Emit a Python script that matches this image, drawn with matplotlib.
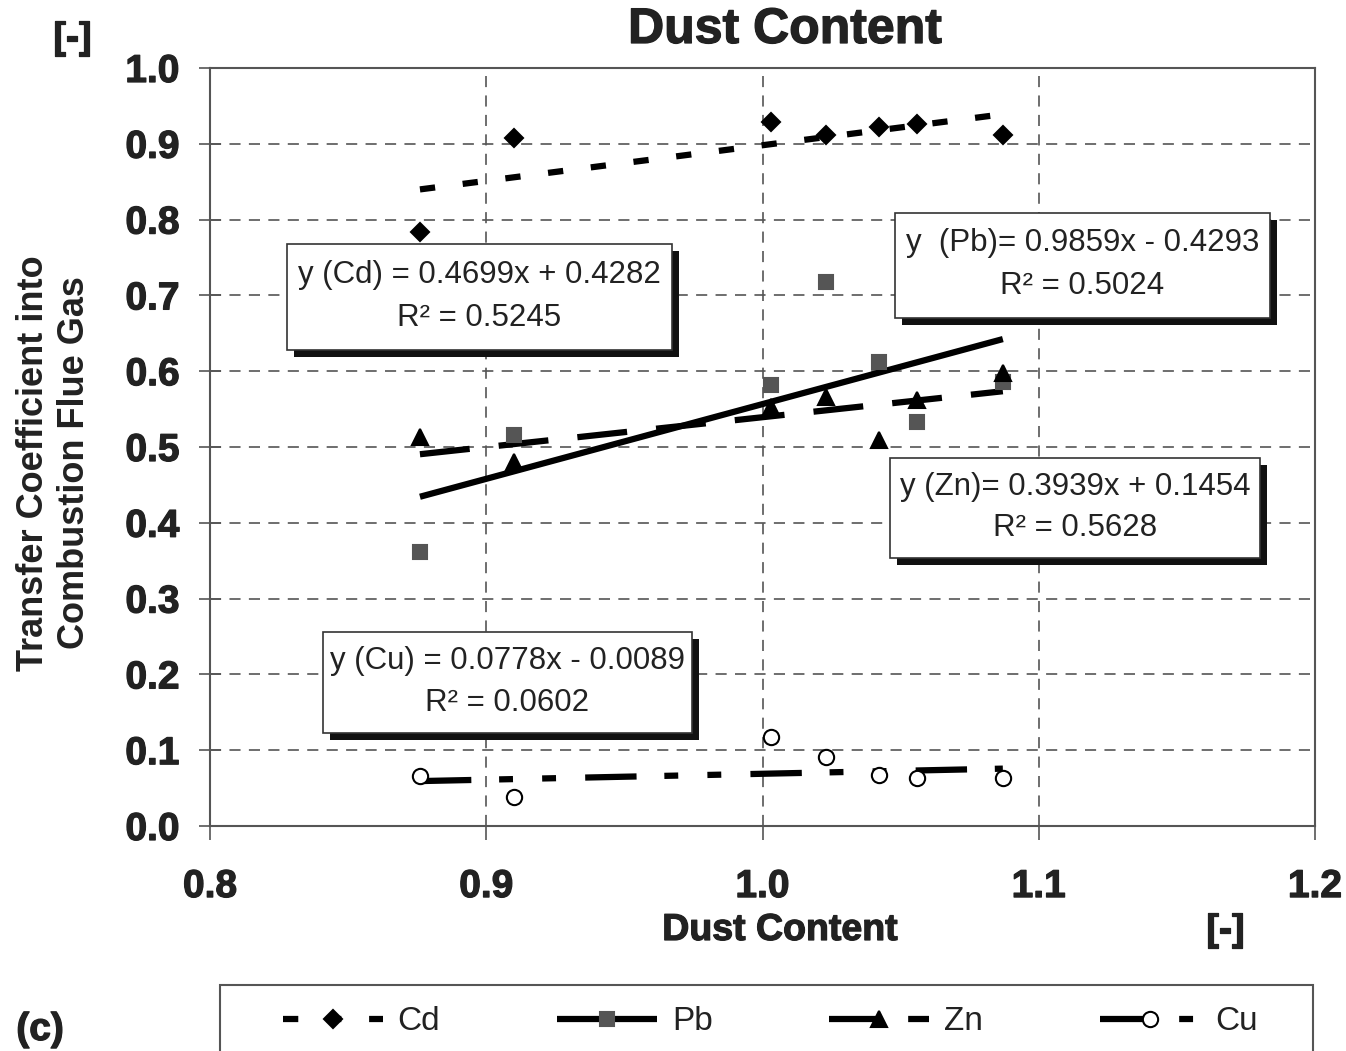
import numpy as np
import matplotlib
matplotlib.use("Agg")
import matplotlib.pyplot as plt
import matplotlib.patheffects as pe
from matplotlib.lines import Line2D
from matplotlib.patches import Rectangle

plt.rcParams['font.family'] = ['Liberation Sans', 'DejaVu Sans']
plt.rcParams['lines.scale_dashes'] = False

# Datos
dust = [0.876, 0.910, 1.003, 1.023, 1.042, 1.056, 1.087]
cd = [0.784, 0.908, 0.929, 0.912, 0.922, 0.926, 0.912]
pb = [0.361, 0.516, 0.582, 0.718, 0.612, 0.533, 0.586]
zn = [0.513, 0.480, 0.553, 0.566, 0.509, 0.562, 0.598]
cu = [0.066, 0.038, 0.117, 0.091, 0.067, 0.063, 0.063]

# Coeficientes de las rectas de tendencia (pendiente, ordenada)
fit_cd = [0.4699, 0.4282]
fit_pb = [0.9859, -0.4293]
fit_zn = [0.3939, 0.1454]
fit_cu = [0.0778, -0.0089]

etiquetas = ["Cd", "Pb", "Zn", "Cu"]
textos = [
    ("y (Cd) = 0.4699x + 0.4282", "R² = 0.5245"),
    ("y  (Pb)= 0.9859x - 0.4293", "R² = 0.5024"),
    ("y (Zn)= 0.3939x + 0.1454", "R² = 0.5628"),
    ("y (Cu) = 0.0778x - 0.0089", "R² = 0.0602"),
]

W, H = 1346, 1051
fig = plt.figure(figsize=(W / 100, H / 100), dpi=100)
ax = fig.add_axes([210 / W, 1 - 826 / H, 1105 / W, 758 / H])

negrita = [pe.withStroke(linewidth=0.9, foreground="#222222")]

# Estilos de linea
estilos = {
    "Cd": dict(ls=(0, (11, 20)), marker="D", ms=9, mfc="k", mec="k"),
    "Pb": dict(ls="-", marker="s", ms=10, mfc="#555555", mec="#555555"),
    "Zn": dict(ls=(0, (36, 21)), marker="^", ms=12, mfc="k", mec="k"),
    "Cu": dict(ls=(0, (37, 20, 10, 21, 10, 21)), marker="o", ms=11, mfc="white", mec="k"),
}
series = {"Cd": (cd, fit_cd), "Pb": (pb, fit_pb), "Zn": (zn, fit_zn), "Cu": (cu, fit_cu)}

xs = np.array([min(dust), max(dust)])
for nombre in etiquetas:
    valores, (m, b) = series[nombre]
    st = estilos[nombre]
    ax.plot(dust, valores, ls="none", marker=st["marker"], ms=st["ms"],
            mfc=st["mfc"], mec=st["mec"], mew=1.5, zorder=4)
    ax.plot(xs, m * xs + b, color="k", lw=4.5, ls=st["ls"], solid_capstyle="butt",
            dash_capstyle="butt", zorder=3)

ax.set_xlim(0.8, 1.2)
ax.set_ylim(0.0, 1.0)
ax.set_xticks(np.arange(0.8, 1.21, 0.1))
ax.set_yticks(np.arange(0.0, 1.01, 0.1))
ax.set_xticklabels(["0.8", "0.9", "1.0", "1.1", "1.2"])
ax.set_yticklabels([f"{v:.1f}" for v in np.arange(0.0, 1.01, 0.1)])
ax.grid(True, color="#555555", ls=(0, (8, 6)), lw=1.2)
for s in ax.spines.values():
    s.set_color("#555555")
    s.set_linewidth(1.5)
ax.tick_params(axis="x", direction="out", length=10, width=1.2, color="#555555",
               labelsize=28, pad=21)
ax.tick_params(axis="y", direction="inout", length=16, width=1.2, color="#555555",
               labelsize=28, pad=14)
for lab in ax.get_xticklabels() + ax.get_yticklabels():
    lab.set_fontweight("bold")
    lab.set_color("#222222")
    lab.set_path_effects(negrita)

# Titulos y etiquetas
fig.text(785 / W, 1 - 30 / H, "Dust Content", ha="center", va="center",
         fontsize=36, fontweight="bold", color="#222222", path_effects=negrita)
fig.text(780 / W, 1 - 930 / H, "Dust Content", ha="center", va="center",
         fontsize=27, fontweight="bold", color="#222222", path_effects=negrita)
fig.text(1225 / W, 1 - 930 / H, "[-]", ha="center", va="center",
         fontsize=27, fontweight="bold", color="#222222", path_effects=negrita)
fig.text(72 / W, 1 - 38 / H, "[-]", ha="center", va="center",
         fontsize=27, fontweight="bold", color="#222222", path_effects=negrita)
fig.text(40 / W, 1 - 1030 / H, "(c)", ha="center", va="center",
         fontsize=28, fontweight="bold", color="#222222", path_effects=negrita)
fig.text(54 / W, 1 - 463 / H, "Transfer Coefficient into\nCombustion Flue Gas",
         ha="center", va="center", rotation=90, fontsize=26, fontweight="bold",
         family=["Liberation Sans Narrow", "Liberation Sans"], color="#222222",
         linespacing=1.2)

# Cuadros de ecuaciones con sombra
cajas = [(287, 244, 672, 350), (895, 213, 1270, 318), (890, 458, 1260, 558), (323, 632, 692, 733)]
for (x0, y0, x1, y1), (l1, l2) in zip(cajas, textos):
    fig.add_artist(Rectangle((x0 / W + 7 / W, 1 - (y1 + 7) / H), (x1 - x0) / W, (y1 - y0) / H,
                             transform=fig.transFigure, facecolor="#111111", edgecolor="none", zorder=5))
    fig.add_artist(Rectangle((x0 / W, 1 - y1 / H), (x1 - x0) / W, (y1 - y0) / H,
                             transform=fig.transFigure, facecolor="white", edgecolor="#333333",
                             lw=1.2, zorder=6))
    cx = (x0 + x1) / 2 / W
    fig.text(cx, 1 - (y0 + 0.29 * (y1 - y0)) / H, l1, ha="center", va="center",
             fontsize=22.5, color="#222222", zorder=7)
    fig.text(cx, 1 - (y0 + 0.70 * (y1 - y0)) / H, l2, ha="center", va="center",
             fontsize=22.5, color="#222222", zorder=7)

# Leyenda (marco dibujado aparte)
fig.add_artist(Rectangle((220 / W, 1 - 1065 / H), 1093 / W, 80 / H, transform=fig.transFigure,
                         facecolor="white", edgecolor="#555555", lw=1.5, zorder=1))
handles = []
for nombre in etiquetas:
    st = estilos[nombre]
    handles.append(Line2D([], [], color="k", lw=4.5, ls=st["ls"], marker=st["marker"],
                          ms=st["ms"], mfc=st["mfc"], mec=st["mec"], mew=1.5,
                          dash_capstyle="butt", solid_capstyle="butt"))
leg = fig.legend(handles, etiquetas, loc="center", ncol=4,
                 bbox_to_anchor=(770 / W, 1 - 1022 / H),
                 frameon=False, fontsize=24, handlelength=3.0, handletextpad=0.45,
                 columnspacing=3.5, numpoints=1, borderaxespad=0, borderpad=0)
for t in leg.get_texts():
    t.set_color("#222222")

fig.savefig("out.png", dpi=100)
